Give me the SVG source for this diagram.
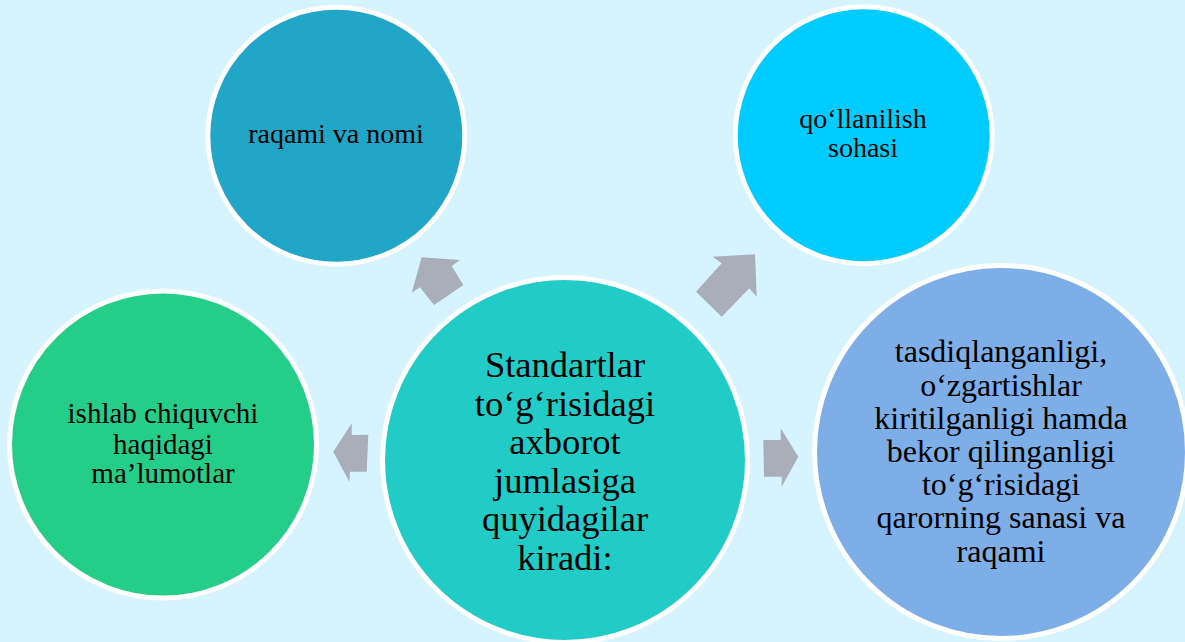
<svg xmlns="http://www.w3.org/2000/svg" width="1185" height="642" viewBox="0 0 1185 642">
<style>
.node{stroke:#FFFFFF;stroke-width:5}
.lbl{font-family:"Liberation Serif","Times New Roman",serif;fill:#000000;text-anchor:middle}
.arrow{fill:#A9AEB9}
</style>
<rect x="0" y="0" width="1185" height="642" fill="#D5F4FE"/>
<g id="connectors">
<polygon class="arrow" points="421.7,257.3 460,260 451.7,266 463.3,285 434,305 420,287.3 411.7,292.7"/>
<polygon class="arrow" points="755,254.3 712.7,256.7 721.7,263.3 696,291.7 721.7,316.7 749.3,288.3 756.7,296.7"/>
<polygon class="arrow" points="333.3,451.7 351.7,423.3 351.7,435 368.3,434.7 366.7,471.7 350,471.7 349.3,481.7"/>
<polygon class="arrow" points="798.3,456.7 780.7,428.3 780.7,440 763.3,440 764,476.7 781.7,476.7 781.7,486.7"/>
</g>
<g id="node-raqami">
<circle class="node" cx="336.3" cy="135.8" r="128.5" fill="#22A6C7"/>
<text class="lbl" x="336" y="142.7" font-size="28">raqami va nomi</text>
</g>
<g id="node-qollanilish">
<circle class="node" cx="863.7" cy="135.3" r="128.5" fill="#00CCFF"/>
<text class="lbl" x="863" y="128.3" font-size="28">qo‘llanilish</text>
<text class="lbl" x="863" y="156.7" font-size="28">sohasi</text>
</g>
<g id="node-ishlab">
<circle class="node" cx="163" cy="444.5" r="153.5" fill="#24CE88"/>
<text class="lbl" x="163" y="423.3" font-size="29">ishlab chiquvchi</text>
<text class="lbl" x="163" y="454.3" font-size="29">haqidagi</text>
<text class="lbl" x="163" y="483.3" font-size="29">ma’lumotlar</text>
</g>
<g id="node-tasdiq">
<circle class="node" cx="1001" cy="452" r="186.5" fill="#7DAEE8"/>
<text class="lbl" x="1001" y="361.7" font-size="32">tasdiqlanganligi,</text>
<text class="lbl" x="1001" y="395.7" font-size="32">o‘zgartishlar</text>
<text class="lbl" x="1001" y="428.5" font-size="32">kiritilganligi hamda</text>
<text class="lbl" x="1001" y="461.7" font-size="32">bekor qilinganligi</text>
<text class="lbl" x="1001" y="494.5" font-size="32">to‘g‘risidagi</text>
<text class="lbl" x="1001" y="528" font-size="32">qarorning sanasi va</text>
<text class="lbl" x="1001" y="561.7" font-size="32">raqami</text>
</g>
<g id="node-center">
<circle class="node" cx="565" cy="460" r="182.5" fill="#22CCC6"/>
<text class="lbl" x="565" y="377" font-size="36.5">Standartlar</text>
<text class="lbl" x="565" y="415.6" font-size="36.5">to‘g‘risidagi</text>
<text class="lbl" x="565" y="454.2" font-size="36.5">axborot</text>
<text class="lbl" x="565" y="492.8" font-size="36.5">jumlasiga</text>
<text class="lbl" x="565" y="531.4" font-size="36.5">quyidagilar</text>
<text class="lbl" x="565" y="570" font-size="36.5">kiradi:</text>
</g>
</svg>
